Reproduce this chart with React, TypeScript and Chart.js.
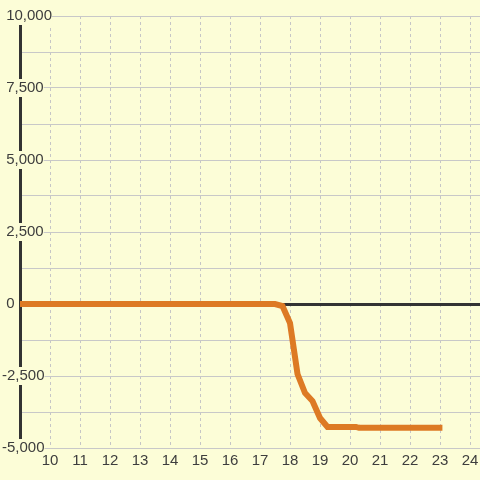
import React, { useEffect, useRef } from 'react';
import { Chart, registerables } from 'chart.js';

Chart.register(...registerables);

// Hours (x) and values (y) of the series
const hours = [8, 17.5, 17.75, 18.0, 18.25, 18.5, 18.75, 19.0, 19.25, 20.2, 20.3, 23.08];
const values = [0, 0, -69, -660, -2430, -3090, -3370, -3960, -4270, -4270, -4300, -4300];

const xMin = 9;
const xMax = 24.333;
const yMin = -5000;
const yMax = 10000;
const yStep = 1250;
const yLabelStep = 2500;

const BG = '#fcfdd7';
const ORANGE = '#dd7a24';
const DARK = '#333333';
const TEXT = '#3d3d3d';
const GRID = '#c8c8c8';
const FONT = 'Liberation Sans, Arial, sans-serif';
const FS = 15;

function approxWidth(s: string): number {
  let w = 0;
  for (const ch of s) {
    if (ch >= '0' && ch <= '9') w += 0.556 * FS;
    else if (ch === ',' || ch === ' ') w += 0.278 * FS;
    else if (ch === '-') w += 0.333 * FS;
    else w += 0.556 * FS;
  }
  return w;
}

export default function App() {
  const ref = useRef<HTMLCanvasElement | null>(null);

  useEffect(() => {
    document.body.style.margin = '0';
    const canvas = ref.current;
    if (!canvas) return;
    const bgPlugin = {
      id: 'bg',
      beforeDraw(chart: any) {
        const c = chart.ctx;
        c.save();
        c.fillStyle = BG;
        c.fillRect(0, 0, chart.width, chart.height);
        c.restore();
      },
    };
    const chart = new Chart(canvas, {
      type: 'line',
      data: {
        datasets: [
          {
            data: hours.map((h, i) => ({ x: h, y: values[i] })),
            borderColor: ORANGE,
            borderWidth: 6,
            pointRadius: 0,
            tension: 0,
            fill: false,
          },
        ],
      },
      options: {
        responsive: false,
        animation: false,
        layout: { padding: { top: 16, left: 0, right: 0, bottom: 0 } },
        plugins: { legend: { display: false }, tooltip: { enabled: false } },
        scales: {
          x: {
            type: 'linear',
            min: xMin,
            max: xMax,
            afterFit: (s: any) => {
              s.height = 32;
              s.paddingLeft = 0;
              s.paddingRight = 0;
            },
            grid: { color: '#c6c6c6', lineWidth: 1, drawTicks: false },
            border: { display: false, dash: [3, 3] },
            ticks: {
              z: 1,
              stepSize: 1,
              includeBounds: false,
              padding: 4,
              color: TEXT,
              font: { family: FONT, size: FS },
              maxRotation: 0,
              autoSkip: false,
              callback: (v: any) => (Number(v) === xMin ? '' : String(v)),
            },
          },
          y: {
            type: 'linear',
            min: yMin,
            max: yMax,
            afterFit: (s: any) => {
              s.width = 20;
              s.paddingTop = 0;
              s.paddingBottom = 0;
            },
            grid: {
              drawTicks: false,
              color: (ctx: any) => (ctx.tick && ctx.tick.value === 0 ? DARK : GRID),
              lineWidth: (ctx: any) => (ctx.tick && ctx.tick.value === 0 ? 3 : 1),
            },
            border: { display: true, color: DARK, width: 3 },
            ticks: {
              stepSize: yStep,
              mirror: true,
              padding: -18,
              color: TEXT,
              font: { family: FONT, size: FS },
              autoSkip: false,
              showLabelBackdrop: (ctx: any) => ctx.tick && ctx.tick.value % yLabelStep === 0,
              backdropColor: BG,
              backdropPadding: (ctx: any) => {
                const lbl = ctx.tick ? String(ctx.tick.label ?? '') : '';
                const w = approxWidth(lbl);
                const target = lbl.trim().startsWith('-') ? 48 : 51;
                return { top: 0, bottom: 0, left: 2, right: Math.max(2, target - w) };
              },
              callback: (v: any) => {
                const n = Number(v);
                if (n % yLabelStep !== 0) return '';
                return (n < 0 ? '' : ' ') + n.toLocaleString('en-US');
              },
            },
          },
        },
      },
      plugins: [bgPlugin],
    } as any);
    return () => chart.destroy();
  }, []);

  return (
    <div style={{ position: 'fixed', left: 0, top: 0, width: 480, height: 480 }}>
      <canvas ref={ref} width={480} height={480} style={{ display: 'block' }} />
    </div>
  );
}
